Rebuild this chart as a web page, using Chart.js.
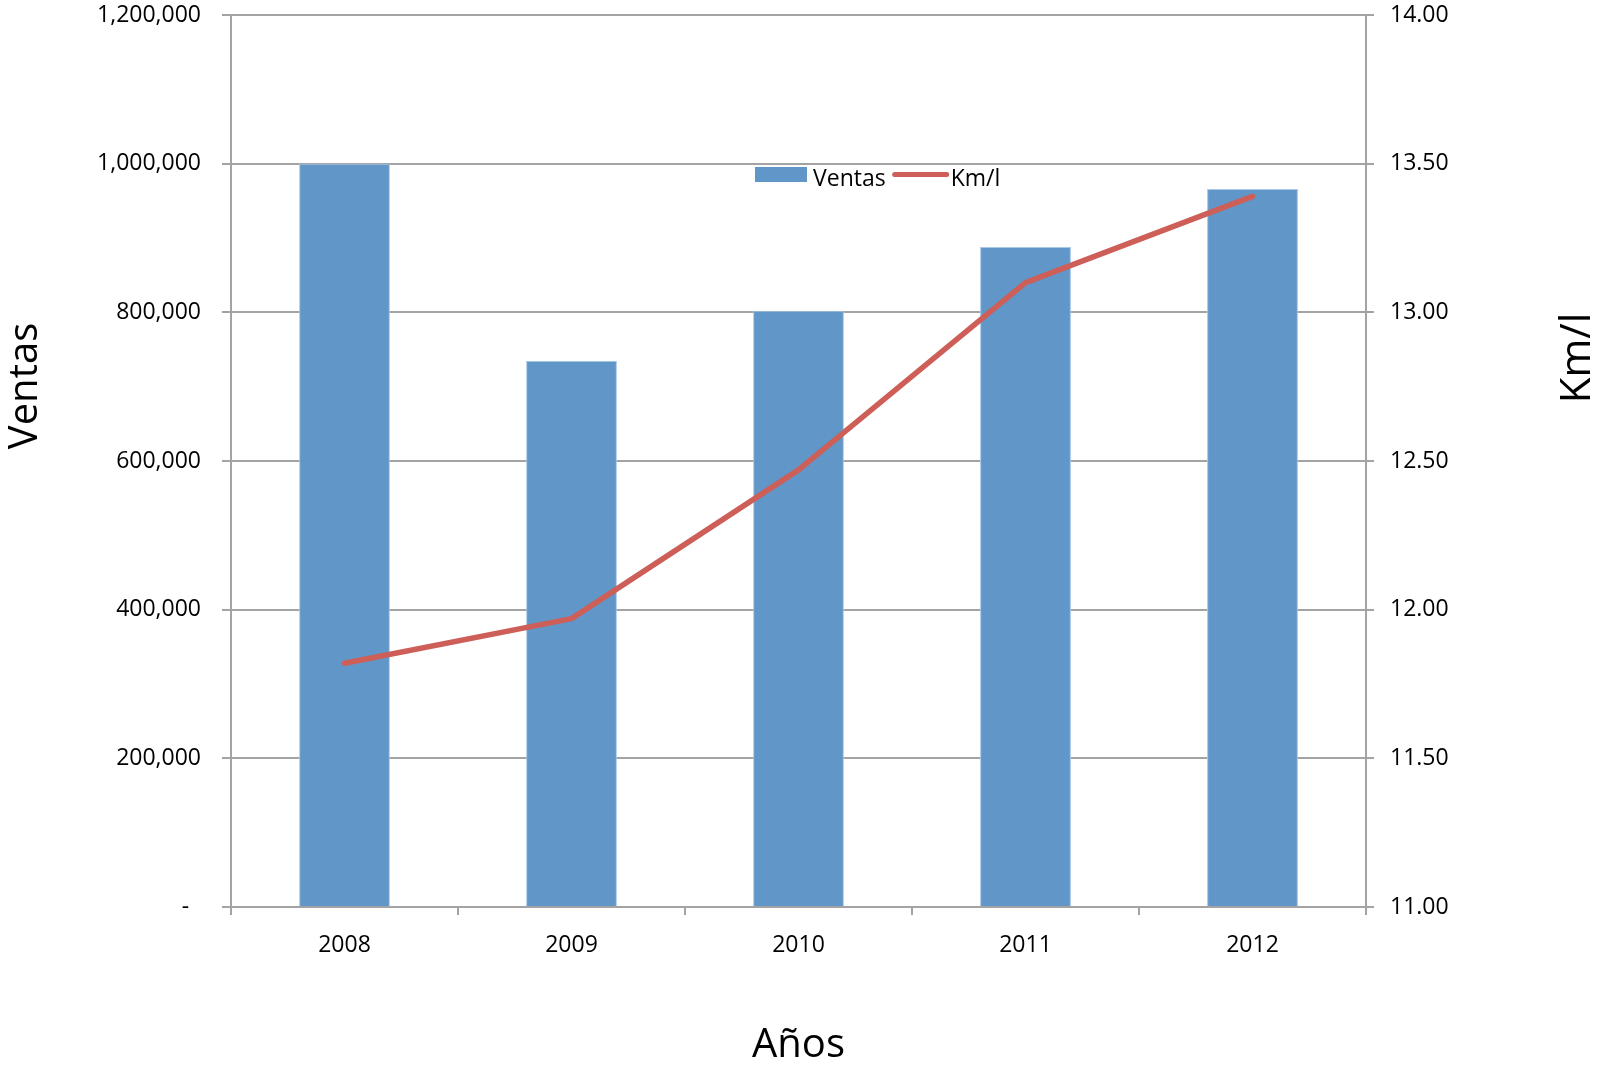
<!DOCTYPE html>
<html>
<head>
<meta charset="utf-8">
<title>Ventas y Km/l</title>
<script src="https://cdn.jsdelivr.net/npm/chart.js@4.4.1/dist/chart.umd.min.js"></script>
<style>
  html, body { margin: 0; padding: 0; background: #ffffff; }
  #wrap { width: 1604px; height: 1067px; }
</style>
</head>
<body>
<div id="wrap"><canvas id="chart" width="1604" height="1067"></canvas></div>
<script>
// Years on the category axis
const years = ['2008', '2009', '2010', '2011', '2012'];
// Units sold per year (left axis)
const ventas = [1000000, 735000, 802000, 888000, 966000];
// Fuel efficiency, km per litre (right axis)
const kmPorLitro = [11.82, 11.97, 12.47, 13.10, 13.39];
// Axis ranges and steps
const ventasTicks = { min: 0, max: 1200000, step: 200000 };
const kmTicks = { min: 11, max: 14, step: 0.5 };

const FONT = "'Open Sans', 'Liberation Sans', sans-serif";
const GRID = '#a3a3a3';
const BAR_BLUE = '#6096c8';
const LINE_RED = '#cd5f58';
const TICK_FONT = { family: FONT, size: 23, lineHeight: 1.0 };

// Fixed side width for a vertical axis; its label overhang is absorbed by the layout padding
function fixVertical(width) {
  return (scale) => {
    scale.width = width;
    scale.paddingTop = 0;
    scale.paddingBottom = 0;
  };
}

// Axis titles drawn rotated (both vertical titles read bottom-to-top)
const axisTitles = {
  id: 'axisTitles',
  afterDraw(chart, args, opts) {
    const ctx = chart.ctx;
    ctx.save();
    ctx.fillStyle = '#000';
    ctx.textAlign = 'center';
    ctx.textBaseline = 'middle';
    for (const t of opts.items) {
      ctx.save();
      ctx.translate(t.x, t.y);
      ctx.rotate(t.rotation || 0);
      ctx.font = (t.size || 40) + 'px ' + FONT;
      ctx.fillText(t.text, 0, 0);
      ctx.restore();
    }
    ctx.restore();
  }
};

// Legend drawn inside the plot, under the 1,000,000 gridline
const innerLegend = {
  id: 'innerLegend',
  afterDatasetsDraw(chart, args, opts) {
    const ctx = chart.ctx;
    const ds = chart.data.datasets;
    ctx.save();
    ctx.font = '23px ' + FONT;
    ctx.textBaseline = 'middle';
    ctx.fillStyle = '#000';
    let x = opts.x;
    const y = opts.y;
    for (const d of ds) {
      if (d.type === 'line') {
        ctx.strokeStyle = d.borderColor;
        ctx.lineWidth = 5;
        ctx.lineCap = 'round';
        ctx.beginPath();
        ctx.moveTo(x + 2, y);
        ctx.lineTo(x + 54, y);
        ctx.stroke();
        x += 58;
      } else {
        ctx.fillStyle = d.backgroundColor;
        ctx.fillRect(x, y - 7.5, 52, 15);
        x += 58;
      }
      ctx.fillStyle = '#000';
      ctx.fillText(d.label, x, y + 5);
      x += ctx.measureText(d.label).width + 7;
    }
    ctx.restore();
  }
};

new Chart(document.getElementById('chart'), {
  data: {
    labels: years,
    datasets: [
      {
        type: 'bar',
        label: 'Ventas',
        data: ventas,
        yAxisID: 'y',
        backgroundColor: BAR_BLUE,
        borderColor: '#a9c7e6',
        borderWidth: 1,
        barPercentage: 0.4,
        categoryPercentage: 1.0,
        order: 2
      },
      {
        type: 'line',
        label: 'Km/l',
        data: kmPorLitro,
        yAxisID: 'y1',
        borderColor: LINE_RED,
        backgroundColor: LINE_RED,
        borderWidth: 5.5,
        borderCapStyle: 'round',
        borderJoinStyle: 'round',
        pointRadius: 0,
        tension: 0,
        order: 1
      }
    ]
  },
  options: {
    responsive: false,
    animation: false,
    devicePixelRatio: 1,
    layout: { padding: { top: 15, left: 0, right: 0, bottom: 0 } },
    font: { family: FONT },
    plugins: {
      legend: { display: false },
      tooltip: { enabled: false },
      axisTitles: {
        items: [
          { text: 'Ventas', x: 26, y: 386, rotation: -Math.PI / 2, size: 40 },
          { text: 'Km/l', x: 1578, y: 358, rotation: -Math.PI / 2, size: 42 }
        ]
      },
      innerLegend: { x: 755, y: 174.5 }
    },
    scales: {
      x: {
        type: 'category',
        offset: true,
        afterFit(scale) { scale.height = 160; },
        grid: {
          offset: true,
          drawOnChartArea: false,
          drawTicks: true,
          tickLength: 8,
          color: GRID,
          lineWidth: 2
        },
        border: { display: true, color: GRID, width: 2 },
        ticks: {
          color: '#000',
          padding: 19,
          font: TICK_FONT
        },
        title: {
          display: true,
          text: 'Años',
          color: '#000',
          font: { family: FONT, size: 40, lineHeight: 1.0 },
          padding: { top: 0, bottom: 1 }
        }
      },
      y: {
        type: 'linear',
        position: 'left',
        min: ventasTicks.min,
        max: ventasTicks.max,
        afterFit: fixVertical(231),
        grid: {
          drawOnChartArea: true,
          drawTicks: true,
          tickLength: 9,
          color: GRID,
          lineWidth: 2
        },
        border: { display: true, color: GRID, width: 2 },
        ticks: {
          stepSize: ventasTicks.step,
          color: '#000',
          padding: 21,
          font: TICK_FONT,
          callback: (v) => v === 0 ? '-  ' : v.toLocaleString('en-US')
        }
      },
      y1: {
        type: 'linear',
        position: 'right',
        min: kmTicks.min,
        max: kmTicks.max,
        afterFit: fixVertical(238),
        grid: {
          drawOnChartArea: false,
          drawTicks: true,
          tickLength: 8,
          color: GRID,
          lineWidth: 2
        },
        border: { display: true, color: GRID, width: 2 },
        ticks: {
          stepSize: kmTicks.step,
          color: '#000',
          padding: 16,
          font: TICK_FONT,
          callback: (v) => Number(v).toFixed(2)
        }
      }
    }
  },
  plugins: [axisTitles, innerLegend]
});
</script>
</body>
</html>
